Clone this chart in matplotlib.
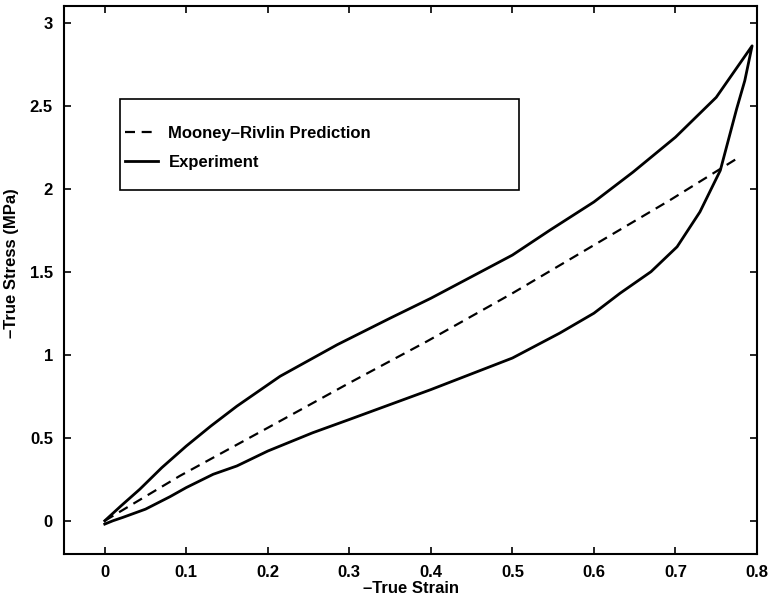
import matplotlib
matplotlib.use("Agg")
import matplotlib.pyplot as plt
from matplotlib.patches import Rectangle

plt.rcParams['font.family'] = ['Liberation Sans', 'DejaVu Sans']

# Experiment loop: loading branch (upper)
load_strain = [0.0, 0.02, 0.043, 0.07, 0.10, 0.13, 0.162, 0.215, 0.285, 0.35,
               0.40, 0.45, 0.50, 0.546, 0.60, 0.648, 0.70, 0.75, 0.794]
load_stress = [0.0, 0.09, 0.19, 0.32, 0.45, 0.57, 0.69, 0.87, 1.06, 1.22,
               1.34, 1.47, 1.60, 1.75, 1.92, 2.10, 2.31, 2.55, 2.86]

# unloading branch (lower), from the peak back to the origin
unload_strain = [0.794, 0.785, 0.775, 0.755, 0.73, 0.702, 0.67, 0.632, 0.60,
                 0.558, 0.50, 0.40, 0.35, 0.30, 0.255, 0.20, 0.162, 0.133,
                 0.10, 0.08, 0.05, 0.022, 0.01, 0.0]
unload_stress = [2.86, 2.65, 2.48, 2.11, 1.86, 1.65, 1.50, 1.37, 1.25,
                 1.13, 0.98, 0.79, 0.70, 0.61, 0.53, 0.42, 0.33, 0.28,
                 0.20, 0.145, 0.07, 0.02, 0.0, -0.02]

# Mooney-Rivlin prediction
mr_strain = [0.0, 0.092, 0.20, 0.30, 0.395, 0.50, 0.60, 0.693, 0.775]
mr_stress = [0.0, 0.27, 0.56, 0.83, 1.08, 1.37, 1.66, 1.93, 2.18]

xticks = [0, 0.1, 0.2, 0.3, 0.4, 0.5, 0.6, 0.7, 0.8]
xticklabels = ['0', '0.1', '0.2', '0.3', '0.4', '0.5', '0.6', '0.7', '0.8']
yticks = [0, 0.5, 1, 1.5, 2, 2.5, 3]
yticklabels = ['0', '0.5', '1', '1.5', '2', '2.5', '3']

fig = plt.figure(figsize=(7.73, 6.0), dpi=100)
ax = fig.add_axes([0.0828, 0.0767, 0.8965, 0.9133])

exp_strain = load_strain + unload_strain[1:]
exp_stress = load_stress + unload_stress[1:]

l_mr, = ax.plot(mr_strain, mr_stress, color='k', lw=1.6, dashes=(4.5, 3),
                label='Mooney\u2013Rivlin Prediction')
l_exp, = ax.plot(exp_strain, exp_stress, color='k', lw=2.0,
                 label='Experiment')

ax.set_xlim(-0.05, 0.8)
ax.set_ylim(-0.2, 3.1)
ax.set_xticks(xticks)
ax.set_xticklabels(xticklabels)
ax.set_yticks(yticks)
ax.set_yticklabels(yticklabels)

ax.tick_params(direction='in', length=5, width=1.2, top=True, right=True,
               labelsize=12, pad=8)
for lbl in ax.get_xticklabels() + ax.get_yticklabels():
    lbl.set_fontweight('bold')
for s in ax.spines.values():
    s.set_linewidth(1.5)

ax.set_xlabel('\u2013True Strain', fontsize=12, fontweight='bold', labelpad=1)
ax.set_ylabel('\u2013True Stress (MPa)', fontsize=12, fontweight='bold')
ax.yaxis.set_label_coords(-0.065, 0.53)

# legend box drawn as a frame, entries placed inside it
ax.add_patch(Rectangle((0.081, 0.664), 0.576, 0.166, transform=ax.transAxes,
                       fill=False, lw=1.2, ec='k', zorder=5))
ax.legend(handles=[l_mr, l_exp], loc='upper left',
          bbox_to_anchor=(0.081, 0.79), frameon=False,
          prop={'weight': 'bold', 'size': 12},
          handlelength=2.0, handletextpad=0.6, labelspacing=0.85,
          borderaxespad=0, borderpad=0.3)

fig.savefig('out.png', dpi=100)
